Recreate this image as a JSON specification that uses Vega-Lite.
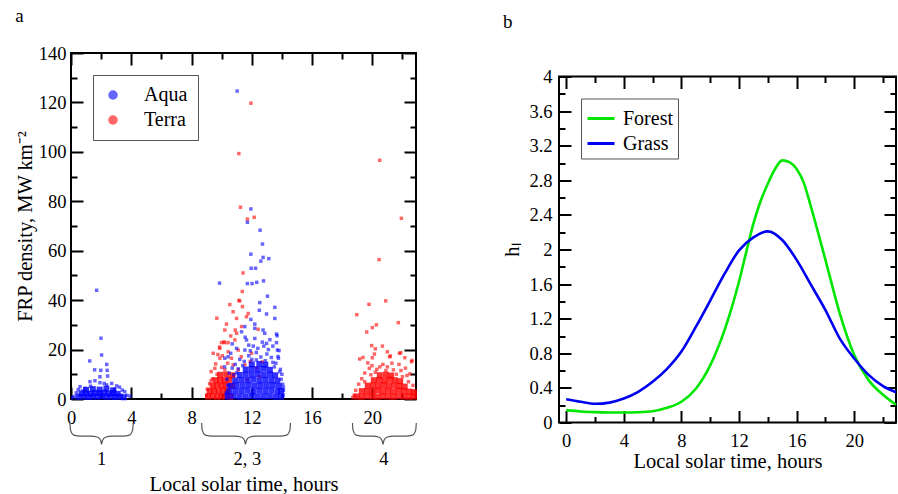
{
"$schema":"https://vega.github.io/schema/vega-lite/v6.json",
"background":"white",
"padding":{"left":14,"top":6,"right":0,"bottom":0},
"config":{
 "font":"Liberation Serif",
 "view":{"stroke":"black","strokeWidth":2},
 "axis":{"labelFont":"Liberation Serif","titleFont":"Liberation Serif","labelFontSize":18.5,"titleFontSize":20.5,"titleFontWeight":"normal","labelColor":"black","titleColor":"black","domain":false,"tickColor":"black","tickWidth":2,"grid":false,"labelFlush":false,"labelOverlap":false},
 "legend":{"labelFont":"Liberation Serif","labelFontSize":20,"labelColor":"black","strokeColor":"#555","fillColor":"white","orient":"top-left","offset":22},
 "title":{"font":"Liberation Serif","fontSize":19,"fontWeight":"normal","anchor":"start","frame":"bounds","color":"black"}
},
"center":true,
"spacing":81,
"resolve":{"scale":{"color":"independent"},"legend":{"color":"independent"}},
"datasets":{
"aquaCore":[{"t":0.5,"v":0.9},{"t":0.85,"v":1.0},{"t":1.15,"v":0.8},{"t":1.45,"v":1.0},{"t":1.75,"v":0.9},{"t":2.05,"v":1.1},{"t":2.35,"v":0.9},{"t":2.65,"v":1.0},{"t":2.95,"v":0.8},{"t":3.25,"v":1.0},{"t":3.5,"v":0.7},
{"t":0.7,"v":2.2},{"t":1.0,"v":2.4},{"t":1.3,"v":2.1},{"t":1.6,"v":2.5},{"t":1.9,"v":2.3},{"t":2.2,"v":2.6},{"t":2.5,"v":2.2},{"t":2.8,"v":2.4},{"t":3.1,"v":2.1},
{"t":1.0,"v":3.7},{"t":1.45,"v":4.0},{"t":1.9,"v":3.8},{"t":2.35,"v":4.2},{"t":2.8,"v":3.5},
{"t":10.4,"v":1.0},{"t":10.8,"v":1.1},{"t":11.2,"v":0.9},{"t":11.6,"v":1.0},{"t":12.0,"v":1.2},{"t":12.4,"v":0.9},{"t":12.8,"v":1.0},{"t":13.2,"v":1.1},{"t":13.6,"v":0.9},{"t":13.95,"v":1.0},
{"t":10.5,"v":3.1},{"t":10.9,"v":3.3},{"t":11.3,"v":3.2},{"t":11.7,"v":3.4},{"t":12.1,"v":3.0},{"t":12.5,"v":3.3},{"t":12.9,"v":3.2},{"t":13.3,"v":3.4},{"t":13.7,"v":3.1},{"t":13.95,"v":3.3},
{"t":10.6,"v":5.3},{"t":11.0,"v":5.5},{"t":11.4,"v":5.4},{"t":11.8,"v":5.6},{"t":12.2,"v":5.3},{"t":12.6,"v":5.5},{"t":13.0,"v":5.4},{"t":13.4,"v":5.6},{"t":13.8,"v":5.2},
{"t":10.9,"v":7.5},{"t":11.3,"v":7.7},{"t":11.7,"v":7.6},{"t":12.1,"v":7.8},{"t":12.5,"v":7.5},{"t":12.9,"v":7.7},{"t":13.3,"v":7.6},{"t":13.7,"v":7.4},
{"t":11.2,"v":9.7},{"t":11.6,"v":9.9},{"t":12.0,"v":9.8},{"t":12.4,"v":10.0},{"t":12.8,"v":9.7},{"t":13.2,"v":9.9},{"t":13.55,"v":9.6},
{"t":11.6,"v":11.9},{"t":12.0,"v":12.1},{"t":12.4,"v":12.0},{"t":12.8,"v":12.2},{"t":13.2,"v":11.8},
{"t":12.0,"v":14.0},{"t":12.5,"v":14.2},{"t":12.9,"v":13.9}],
"aquaPts":[{"t":1.7,"v":44.0},{"t":1.99,"v":24.6},{"t":2.03,"v":17.8},{"t":1.24,"v":15.4},{"t":2.37,"v":14.0},{"t":1.57,"v":11.8},{"t":1.98,"v":11.6},{"t":2.4,"v":11.6},{"t":2.43,"v":9.3},{"t":1.92,"v":9.0},{"t":1.26,"v":7.0},{"t":1.59,"v":7.4},{"t":1.92,"v":6.6},{"t":2.2,"v":6.3},{"t":2.37,"v":5.7},{"t":2.7,"v":6.3},{"t":3.03,"v":5.3},{"t":3.22,"v":4.8},{"t":0.6,"v":5.0},{"t":0.48,"v":3.8},{"t":0.93,"v":4.3},{"t":3.91,"v":1.2},{"t":3.57,"v":3.0},{"t":3.7,"v":1.5},{"t":0.2,"v":1.0},{"t":0.1,"v":0.5},{"t":0.35,"v":2.5},{"t":1.3,"v":5.2},{"t":2.9,"v":3.9},{"t":3.4,"v":3.6},{"t":0.75,"v":3.3},
{"t":11.03,"v":124.6},{"t":11.94,"v":76.9},{"t":11.71,"v":71.5},{"t":12.55,"v":68.3},{"t":12.71,"v":62.7},{"t":11.94,"v":58.6},{"t":12.75,"v":57.3},{"t":13.13,"v":56.8},{"t":12.6,"v":55.8},{"t":11.96,"v":52.9},{"t":12.25,"v":52.9},{"t":9.86,"v":46.9},{"t":11.71,"v":46.7},{"t":12.02,"v":46.7},{"t":12.33,"v":47.2},{"t":12.78,"v":47.8},{"t":13.04,"v":41.6},{"t":12.53,"v":39.0},{"t":13.53,"v":37.1},{"t":12.5,"v":35.9},{"t":12.98,"v":34.4},{"t":13.53,"v":32.6},{"t":11.94,"v":32.2},{"t":12.2,"v":30.3},{"t":12.2,"v":28.6},{"t":12.75,"v":27.9},{"t":12.86,"v":26.6},{"t":13.64,"v":26.3},{"t":11.54,"v":29.3},{"t":11.32,"v":27.2},{"t":11.65,"v":23.9},{"t":13.64,"v":22.8},{"t":12.98,"v":22.5},{"t":11.54,"v":19.8},{"t":10.99,"v":20.5},{"t":10.43,"v":17.1},{"t":10.21,"v":16.5},{"t":10.6,"v":18.5},{"t":13.7,"v":19.8},{"t":13.77,"v":16.5},{"t":13.4,"v":21.4},{"t":12.8,"v":21.4},{"t":12.1,"v":21.4},{"t":13.81,"v":19.6},{"t":13.74,"v":17.2},{"t":11.56,"v":25.0},{"t":13.68,"v":25.6},{"t":11.2,"v":16.0},{"t":11.8,"v":17.5},{"t":12.3,"v":18.8},{"t":12.6,"v":17.0},{"t":13.0,"v":18.2},{"t":13.3,"v":16.8},{"t":13.6,"v":14.5},{"t":12.0,"v":16.0},{"t":11.5,"v":15.2},{"t":12.9,"v":15.5},{"t":13.9,"v":12.0},{"t":14.0,"v":10.0},{"t":10.9,"v":14.0},{"t":10.7,"v":12.5},{"t":10.5,"v":10.5},{"t":12.4,"v":20.5},{"t":13.1,"v":20.0},{"t":11.9,"v":19.5},{"t":12.2,"v":24.5},{"t":12.7,"v":23.0},{"t":13.2,"v":24.0},{"t":11.8,"v":21.8},{"t":10.7,"v":22.3},{"t":10.2,"v":13.0},{"t":14.05,"v":6.0},{"t":14.1,"v":3.5},{"t":10.35,"v":8.0},{"t":11.1,"v":12.2},{"t":13.5,"v":13.0},{"t":12.3,"v":15.8},{"t":11.4,"v":13.5},{"t":13.95,"v":8.0},{"t":10.4,"v":5.5},{"t":14.08,"v":1.5},{"t":10.3,"v":2.5},{"t":14.1,"v":4.8},{"t":10.8,"v":9.8},{"t":13.85,"v":11.0},{"t":11.0,"v":10.6},{"t":13.4,"v":14.8}],
"terraCore":[{"t":9.1,"v":1.0},{"t":9.4,"v":1.1},{"t":9.7,"v":0.9},{"t":10.0,"v":1.0},{"t":10.3,"v":1.2},{"t":10.6,"v":0.9},
{"t":9.2,"v":3.2},{"t":9.5,"v":3.3},{"t":9.8,"v":3.1},{"t":10.1,"v":3.4},{"t":10.4,"v":3.2},
{"t":9.4,"v":5.4},{"t":9.7,"v":5.5},{"t":10.0,"v":5.3},{"t":10.3,"v":5.6},{"t":10.7,"v":5.4},
{"t":9.6,"v":7.6},{"t":9.9,"v":7.7},{"t":10.2,"v":7.5},{"t":10.5,"v":7.8},
{"t":9.9,"v":9.8},{"t":10.3,"v":9.9},{"t":10.7,"v":9.6},
{"t":18.95,"v":1.0},{"t":19.3,"v":0.9},{"t":19.65,"v":1.1},{"t":20.0,"v":1.0},{"t":20.35,"v":0.9},{"t":20.7,"v":1.1},{"t":21.05,"v":1.0},{"t":21.4,"v":0.9},{"t":21.75,"v":1.1},{"t":22.1,"v":1.0},{"t":22.45,"v":0.9},{"t":22.75,"v":1.0},
{"t":19.3,"v":3.2},{"t":19.65,"v":3.3},{"t":20.0,"v":3.1},{"t":20.35,"v":3.4},{"t":20.7,"v":3.2},{"t":21.05,"v":3.3},{"t":21.4,"v":3.1},{"t":21.75,"v":3.4},{"t":22.1,"v":3.2},{"t":22.45,"v":3.0},{"t":22.75,"v":2.8},
{"t":19.7,"v":5.4},{"t":20.05,"v":5.5},{"t":20.4,"v":5.3},{"t":20.75,"v":5.6},{"t":21.1,"v":5.4},{"t":21.45,"v":5.5},{"t":21.8,"v":5.3},{"t":22.15,"v":5.0},
{"t":20.1,"v":7.6},{"t":20.45,"v":7.7},{"t":20.8,"v":7.5},{"t":21.15,"v":7.8},{"t":21.5,"v":7.6},{"t":21.85,"v":7.2},
{"t":20.5,"v":9.6},{"t":20.9,"v":9.8},{"t":21.25,"v":9.5}],
"terraPts":[{"t":11.94,"v":119.7},{"t":11.14,"v":99.3},{"t":11.25,"v":77.6},{"t":11.71,"v":72.8},{"t":12.16,"v":73.5},{"t":11.42,"v":51.0},{"t":11.37,"v":43.5},{"t":9.68,"v":32.7},{"t":10.54,"v":38.2},{"t":11.19,"v":39.7},{"t":11.38,"v":37.4},{"t":10.99,"v":32.6},{"t":11.65,"v":33.3},{"t":11.76,"v":34.6},{"t":10.32,"v":30.3},{"t":10.76,"v":35.3},{"t":10.21,"v":27.9},{"t":11.32,"v":29.3},{"t":10.99,"v":26.6},{"t":9.99,"v":22.8},{"t":10.2,"v":22.8},{"t":10.88,"v":23.9},{"t":11.1,"v":19.8},{"t":9.88,"v":20.5},{"t":9.44,"v":18.5},{"t":10.43,"v":19.1},{"t":10.65,"v":16.5},{"t":11.3,"v":17.1},{"t":9.88,"v":16.5},{"t":11.54,"v":13.8},{"t":10.76,"v":13.8},{"t":9.55,"v":12.4},{"t":9.3,"v":11.1},{"t":10.21,"v":11.8},{"t":11.98,"v":18.5},{"t":11.9,"v":15.2},{"t":11.1,"v":11.8},{"t":9.4,"v":8.2},{"t":9.2,"v":6.2},{"t":12.42,"v":28.2},{"t":10.43,"v":22.8},{"t":10.15,"v":23.1},{"t":10.9,"v":27.9},{"t":9.86,"v":21.0},{"t":9.0,"v":1.5},{"t":9.05,"v":4.0},{"t":9.3,"v":7.5},{"t":9.7,"v":10.0},{"t":10.0,"v":12.8},{"t":10.4,"v":14.5},{"t":9.6,"v":14.2},{"t":10.8,"v":9.5},{"t":12.3,"v":12.5},{"t":12.7,"v":15.0},{"t":12.5,"v":9.0},{"t":11.7,"v":8.0},{"t":11.15,"v":39.9},{"t":10.6,"v":25.5},{"t":9.75,"v":18.0},{"t":10.05,"v":17.5},
{"t":20.49,"v":96.6},{"t":21.93,"v":73.1},{"t":20.45,"v":56.4},{"t":18.97,"v":34.1},{"t":19.78,"v":38.3},{"t":20.89,"v":39.7},{"t":19.63,"v":27.1},{"t":20.0,"v":28.9},{"t":20.27,"v":30.0},{"t":21.73,"v":30.9},{"t":19.96,"v":21.6},{"t":20.2,"v":20.3},{"t":20.67,"v":21.4},{"t":21.0,"v":19.1},{"t":21.2,"v":17.4},{"t":19.16,"v":16.2},{"t":21.89,"v":18.7},{"t":22.16,"v":16.7},{"t":22.64,"v":15.6},{"t":22.3,"v":9.5},{"t":19.38,"v":16.8},{"t":20.14,"v":18.2},{"t":21.15,"v":17.1},{"t":21.8,"v":18.5},{"t":22.6,"v":15.1},{"t":21.77,"v":14.0},{"t":20.0,"v":16.7},{"t":20.7,"v":14.0},{"t":19.8,"v":12.4},{"t":19.98,"v":13.5},{"t":21.0,"v":13.0},{"t":19.5,"v":10.5},{"t":19.9,"v":9.8},{"t":20.3,"v":12.0},{"t":20.9,"v":11.5},{"t":21.4,"v":11.8},{"t":21.6,"v":10.0},{"t":22.0,"v":9.0},{"t":22.4,"v":7.0},{"t":22.7,"v":5.5},{"t":22.85,"v":3.0},{"t":22.85,"v":1.0},{"t":18.8,"v":1.5},{"t":18.9,"v":3.5},{"t":19.1,"v":6.0},{"t":19.3,"v":8.2},{"t":21.3,"v":14.5},{"t":20.5,"v":13.0},{"t":20.2,"v":10.8},{"t":21.9,"v":11.5},{"t":22.2,"v":12.5},{"t":19.7,"v":14.6},{"t":18.7,"v":0.6},{"t":19.5,"v":7.0},{"t":22.5,"v":10.2}],
"braces":[{"b":1,"t":-0.07,"v":-9.7},{"b":1,"t":-0.03,"v":-12.6},{"b":1,"t":0.18,"v":-14.6},{"b":1,"t":0.63,"v":-15.0},{"b":1,"t":1.33,"v":-15.0},{"b":1,"t":1.78,"v":-15.5},{"b":1,"t":1.97,"v":-16.8},{"b":1,"t":2.03,"v":-18.3},{"b":1,"t":2.09,"v":-16.8},{"b":1,"t":2.28,"v":-15.5},{"b":1,"t":2.73,"v":-15.0},{"b":1,"t":3.43,"v":-15.0},{"b":1,"t":3.88,"v":-14.6},{"b":1,"t":4.09,"v":-12.6},{"b":1,"t":4.13,"v":-9.7},
{"b":2,"t":8.67,"v":-9.7},{"b":2,"t":8.71,"v":-12.6},{"b":2,"t":8.92,"v":-14.6},{"b":2,"t":9.37,"v":-15.0},{"b":2,"t":10.88,"v":-15.0},{"b":2,"t":11.33,"v":-15.5},{"b":2,"t":11.52,"v":-16.8},{"b":2,"t":11.58,"v":-18.3},{"b":2,"t":11.64,"v":-16.8},{"b":2,"t":11.83,"v":-15.5},{"b":2,"t":12.28,"v":-15.0},{"b":2,"t":13.87,"v":-15.0},{"b":2,"t":14.32,"v":-14.6},{"b":2,"t":14.53,"v":-12.6},{"b":2,"t":14.57,"v":-9.7},
{"b":3,"t":18.68,"v":-9.7},{"b":3,"t":18.72,"v":-12.6},{"b":3,"t":18.93,"v":-14.6},{"b":3,"t":19.38,"v":-15.0},{"b":3,"t":20.01,"v":-15.0},{"b":3,"t":20.46,"v":-15.5},{"b":3,"t":20.65,"v":-16.8},{"b":3,"t":20.71,"v":-18.3},{"b":3,"t":20.77,"v":-16.8},{"b":3,"t":20.96,"v":-15.5},{"b":3,"t":21.41,"v":-15.0},{"b":3,"t":22.22,"v":-15.0},{"b":3,"t":22.67,"v":-14.6},{"b":3,"t":22.88,"v":-12.6},{"b":3,"t":22.92,"v":-9.7}],
"braceLbl":[{"t":2.03,"v":-24.3,"s":"1"},{"t":11.7,"v":-24.3,"s":"2, 3"},{"t":20.76,"v":-24.3,"s":"4"}],
"curves":[{"t":0,"h":0.143,"k":"Forest"},{"t":1,"h":0.128,"k":"Forest"},{"t":2,"h":0.12,"k":"Forest"},{"t":3,"h":0.116,"k":"Forest"},{"t":4,"h":0.115,"k":"Forest"},{"t":5,"h":0.118,"k":"Forest"},{"t":6,"h":0.13,"k":"Forest"},{"t":7,"h":0.17,"k":"Forest"},{"t":8,"h":0.24,"k":"Forest"},{"t":9,"h":0.39,"k":"Forest"},{"t":10,"h":0.66,"k":"Forest"},{"t":11,"h":1.07,"k":"Forest"},{"t":11.5,"h":1.33,"k":"Forest"},{"t":12,"h":1.63,"k":"Forest"},{"t":12.5,"h":1.97,"k":"Forest"},{"t":13,"h":2.3,"k":"Forest"},{"t":13.5,"h":2.56,"k":"Forest"},{"t":14,"h":2.76,"k":"Forest"},{"t":14.5,"h":2.93,"k":"Forest"},{"t":15,"h":3.03,"k":"Forest"},{"t":15.5,"h":3.01,"k":"Forest"},{"t":16,"h":2.93,"k":"Forest"},{"t":16.5,"h":2.77,"k":"Forest"},{"t":17,"h":2.49,"k":"Forest"},{"t":18,"h":1.88,"k":"Forest"},{"t":19,"h":1.26,"k":"Forest"},{"t":20,"h":0.78,"k":"Forest"},{"t":21,"h":0.49,"k":"Forest"},{"t":22,"h":0.32,"k":"Forest"},{"t":22.9,"h":0.205,"k":"Forest"},
{"t":0,"h":0.27,"k":"Grass"},{"t":1,"h":0.24,"k":"Grass"},{"t":2,"h":0.216,"k":"Grass"},{"t":3,"h":0.23,"k":"Grass"},{"t":4,"h":0.277,"k":"Grass"},{"t":5,"h":0.354,"k":"Grass"},{"t":6,"h":0.47,"k":"Grass"},{"t":7,"h":0.62,"k":"Grass"},{"t":8,"h":0.82,"k":"Grass"},{"t":9,"h":1.105,"k":"Grass"},{"t":10,"h":1.41,"k":"Grass"},{"t":11,"h":1.72,"k":"Grass"},{"t":12,"h":1.99,"k":"Grass"},{"t":13,"h":2.14,"k":"Grass"},{"t":14,"h":2.21,"k":"Grass"},{"t":15,"h":2.11,"k":"Grass"},{"t":16,"h":1.88,"k":"Grass"},{"t":17,"h":1.59,"k":"Grass"},{"t":18,"h":1.3,"k":"Grass"},{"t":19,"h":0.97,"k":"Grass"},{"t":20,"h":0.74,"k":"Grass"},{"t":21,"h":0.55,"k":"Grass"},{"t":22,"h":0.42,"k":"Grass"},{"t":22.9,"h":0.35,"k":"Grass"}]
},
"hconcat":[
{
 "title":{"text":"a","offset":18},
 "width":345,"height":346,
 "resolve":{"axis":{"x":"independent","y":"independent"}},
 "layer":[
  {"data":{"name":"terraCore"},"mark":{"type":"square","size":36,"opacity":0.8},
   "encoding":{
    "x":{"field":"t","type":"quantitative","scale":{"domain":[0,22.9],"nice":false,"zero":false},"axis":{"orient":"bottom","values":[0,4,8,12,16,20],"tickSize":-12,"labelPadding":21,"title":"Local solar time, hours","titlePadding":48}},
    "y":{"field":"v","type":"quantitative","scale":{"domain":[0,140],"nice":false,"zero":false},"axis":{"orient":"left","values":[0,20,40,60,80,100,120,140],"tickSize":-12,"labelPadding":17,"title":"FRP density, MW km⁻²","titlePadding":3}},
    "color":{"datum":"Terra","type":"nominal","scale":{"domain":["Aqua","Terra"],"range":["#0000ff","#ff0000"]},"legend":{"title":null,"symbolType":"circle","symbolSize":90,"symbolOpacity":0.55,"padding":10,"rowPadding":5,"labelOffset":21}}
   }},
  {"data":{"name":"terraPts"},"mark":{"type":"square","size":12,"opacity":0.6},
   "encoding":{
    "x":{"field":"t","type":"quantitative","scale":{"domain":[0,22.9],"nice":false,"zero":false},"axis":{"orient":"bottom","values":[2,6,10,14,18,22],"tickSize":-6,"labels":false,"title":null}},
    "y":{"field":"v","type":"quantitative","scale":{"domain":[0,140],"nice":false,"zero":false},"axis":{"orient":"left","values":[10,30,50,70,90,110,130],"tickSize":-6,"labels":false,"title":null}},
    "color":{"datum":"Terra","type":"nominal"}
   }},
  {"data":{"name":"aquaCore"},"mark":{"type":"square","size":36,"opacity":0.8},
   "encoding":{
    "x":{"field":"t","type":"quantitative","scale":{"domain":[0,22.9],"nice":false,"zero":false},"axis":{"orient":"top","values":[0,4,8,12,16,20],"tickSize":-12,"labels":false,"title":null}},
    "y":{"field":"v","type":"quantitative","scale":{"domain":[0,140],"nice":false,"zero":false},"axis":{"orient":"right","values":[0,20,40,60,80,100,120,140],"tickSize":-12,"labels":false,"title":null}},
    "color":{"datum":"Aqua","type":"nominal"}
   }},
  {"data":{"name":"aquaPts"},"mark":{"type":"square","size":12,"opacity":0.6},
   "encoding":{
    "x":{"field":"t","type":"quantitative","scale":{"domain":[0,22.9],"nice":false,"zero":false},"axis":{"orient":"top","values":[2,6,10,14,18,22],"tickSize":-6,"labels":false,"title":null}},
    "y":{"field":"v","type":"quantitative","scale":{"domain":[0,140],"nice":false,"zero":false},"axis":{"orient":"right","values":[10,30,50,70,90,110,130],"tickSize":-6,"labels":false,"title":null}},
    "color":{"datum":"Aqua","type":"nominal"}
   }},
  {"data":{"name":"braces"},"mark":{"type":"line","interpolate":"monotone","stroke":"#555","strokeWidth":1.2,"clip":false},
   "encoding":{
    "x":{"field":"t","type":"quantitative","scale":{"domain":[0,22.9],"nice":false,"zero":false},"axis":null},
    "y":{"field":"v","type":"quantitative","scale":{"domain":[0,140],"nice":false,"zero":false},"axis":null},
    "detail":{"field":"b","type":"nominal"}
   }},
  {"data":{"name":"braceLbl"},"mark":{"type":"text","fontSize":18.5,"font":"Liberation Serif","baseline":"middle","color":"black"},
   "encoding":{
    "x":{"field":"t","type":"quantitative","scale":{"domain":[0,22.9],"nice":false,"zero":false},"axis":null},
    "y":{"field":"v","type":"quantitative","scale":{"domain":[0,140],"nice":false,"zero":false},"axis":null},
    "text":{"field":"s","type":"nominal"}
   }}
 ]
},
{
 "title":{"text":"b","offset":36},
 "width":337,"height":346,
 "data":{"name":"curves"},
 "resolve":{"axis":{"x":"independent","y":"independent"}},
 "layer":[
  {"mark":{"type":"line","strokeWidth":2.6,"interpolate":"monotone"},
   "encoding":{
    "x":{"field":"t","type":"quantitative","scale":{"domain":[-0.5,22.9],"nice":false,"zero":false},"axis":{"orient":"bottom","values":[0,4,8,12,16,20],"tickSize":-12,"labelPadding":21,"title":"Local solar time, hours","titlePadding":1}},
    "y":{"field":"h","type":"quantitative","scale":{"domain":[0,4],"nice":false,"zero":false},"axis":{"orient":"left","values":[0,0.4,0.8,1.2,1.6,2,2.4,2.8,3.2,3.6,4],"format":"~g","tickSize":-12,"labelPadding":19,"title":"hₗ","titlePadding":6}},
    "color":{"field":"k","type":"nominal","scale":{"domain":["Forest","Grass"],"range":["#00e600","#0000f0"]},"legend":{"title":null,"symbolType":"stroke","symbolSize":729,"symbolStrokeWidth":3,"padding":5,"rowPadding":0,"labelOffset":7}}
   }},
  {"mark":{"type":"point","opacity":0},
   "encoding":{
    "x":{"field":"t","type":"quantitative","scale":{"domain":[-0.5,22.9],"nice":false,"zero":false},"axis":{"orient":"bottom","values":[2,6,10,14,18,22],"tickSize":-6,"labels":false,"title":null}},
    "y":{"field":"h","type":"quantitative","scale":{"domain":[0,4],"nice":false,"zero":false},"axis":{"orient":"left","values":[0.2,0.6,1,1.4,1.8,2.2,2.6,3,3.4,3.8],"tickSize":-6,"labels":false,"title":null}}
   }},
  {"mark":{"type":"point","opacity":0},
   "encoding":{
    "x":{"field":"t","type":"quantitative","scale":{"domain":[-0.5,22.9],"nice":false,"zero":false},"axis":{"orient":"top","values":[0,4,8,12,16,20],"tickSize":-12,"labels":false,"title":null}},
    "y":{"field":"h","type":"quantitative","scale":{"domain":[0,4],"nice":false,"zero":false},"axis":{"orient":"right","values":[0,0.4,0.8,1.2,1.6,2,2.4,2.8,3.2,3.6,4],"tickSize":-12,"labels":false,"title":null}}
   }},
  {"mark":{"type":"point","opacity":0},
   "encoding":{
    "x":{"field":"t","type":"quantitative","scale":{"domain":[-0.5,22.9],"nice":false,"zero":false},"axis":{"orient":"top","values":[2,6,10,14,18,22],"tickSize":-6,"labels":false,"title":null}},
    "y":{"field":"h","type":"quantitative","scale":{"domain":[0,4],"nice":false,"zero":false},"axis":{"orient":"right","values":[0.2,0.6,1,1.4,1.8,2.2,2.6,3,3.4,3.8],"tickSize":-6,"labels":false,"title":null}}
   }}
 ]
}
]
}
